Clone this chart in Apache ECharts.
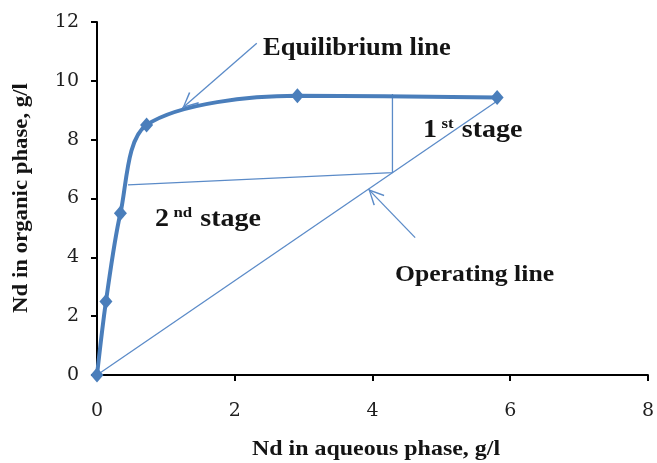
<!DOCTYPE html>
<html><head><meta charset="utf-8">
<script src="https://cdn.jsdelivr.net/npm/echarts@6/dist/echarts.min.js"></script>
<style>html,body{margin:0;padding:0;background:#fff}#c{width:657px;height:463px}</style>
</head><body><div id="c"></div>
<script>
// Equilibrium curve (points with diamond markers)
const eqX = [0, 0.13, 0.34, 0.72, 2.91, 5.81];
const eqY = [0, 2.5, 5.5, 8.5, 9.49, 9.43];
// Operating line
const opX = [0, 5.8];
const opY = [0, 9.3];
// McCabe-Thiele stage construction
const stageX = [0.45, 4.29, 4.29];
const stageY = [6.46, 6.88, 9.55];
// Annotation arrows [from, to]
const eqArrow = [[2.32, 11.28], [1.24, 9.08]];
const opArrow = [[4.62, 4.67], [3.94, 6.32]];
// Axis ticks
const xTicks = [0, 2, 4, 6, 8];
const yTicks = [0, 2, 4, 6, 8, 10, 12];
// Texts
const xTitle = 'Nd in aqueous phase, g/l';
const yTitle = 'Nd in organic phase, g/l';
const eqLabel = 'Equilibrium line';
const opLabel = 'Operating line';

const BLUE = '#4a7ebb';
const THIN = '#5b8bc8';
const SERIF = '"Liberation Serif", "Times New Roman", serif';
const TXT = '#141414';

const chev = 'path://M0,0 L-6,12 L-5,12.7 L0,2.3 L5,12.7 L6,12 Z M0,-12.7 L0.01,-12.7 L0,-12.69 Z';

function zip(a, b) { return a.map((v, i) => [v, b[i]]); }

const chart = echarts.init(document.getElementById('c'), null, {renderer: 'canvas'});
const axisCommon = {
  type: 'value',
  splitLine: {show: false},
  axisLine: {show: true, lineStyle: {color: '#000', width: 2}},
  axisTick: {show: true, inside: false, length: 6, lineStyle: {color: '#000', width: 2}},
  axisLabel: {color: '#1e1e1e', fontFamily: '"DejaVu Serif", serif', fontSize: 19}
};
function boldText(x, y, text, size, sx, extra) {
  return Object.assign({
    type: 'text', x: x, y: y, scaleX: sx, silent: true,
    style: {text: text, fill: TXT, font: 'bold ' + size + 'px ' + SERIF,
            textAlign: 'left', textVerticalAlign: 'middle'}
  }, extra || {});
}
function stageText(x, y, num, sup) {
  return {
    type: 'text', x: x, y: y, scaleX: 1.12, silent: true,
    style: {
      text: '{n|' + num + '}{s|' + sup + '}{n| stage}',
      textAlign: 'left', textVerticalAlign: 'middle',
      rich: {
        n: {fontSize: 25, fontWeight: 'bold', fontFamily: SERIF, fill: TXT, lineHeight: 26, verticalAlign: 'bottom'},
        s: {fontSize: 15, fontWeight: 'bold', fontFamily: SERIF, fill: TXT, lineHeight: 26, verticalAlign: 'top', padding: [0, 1, 0, 4]}
      }
    }
  };
}
chart.setOption({
  animation: false,
  backgroundColor: '#fff',
  grid: {left: 97, right: 5, top: 22, bottom: 88, containLabel: false},
  xAxis: Object.assign({}, axisCommon, {min: xTicks[0], max: xTicks[xTicks.length - 1], interval: xTicks[1] - xTicks[0],
    axisLabel: Object.assign({}, axisCommon.axisLabel, {margin: 27})}),
  yAxis: Object.assign({}, axisCommon, {min: yTicks[0], max: yTicks[yTicks.length - 1], interval: yTicks[1] - yTicks[0],
    axisLabel: Object.assign({}, axisCommon.axisLabel, {margin: 18})}),
  series: [
    {
      type: 'line', data: zip(opX, opY), showSymbol: false, symbol: 'none',
      lineStyle: {color: THIN, width: 1.3}, silent: true, z: 2,
      markLine: {
        silent: true, animation: false, symbol: ['none', chev], symbolSize: [15, 32],
        label: {show: false}, lineStyle: {color: THIN, width: 1.3, type: 'solid'},
        data: [
          [{coord: eqArrow[0]}, {coord: eqArrow[1]}],
          [{coord: opArrow[0]}, {coord: opArrow[1]}]
        ]
      }
    },
    {
      type: 'line', data: zip(stageX, stageY), showSymbol: false, symbol: 'none',
      lineStyle: {color: THIN, width: 1.3}, silent: true, z: 2
    },
    {
      type: 'line', data: zip(eqX, eqY), smooth: 0.3,
      symbol: 'diamond', symbolSize: [13, 15], showSymbol: true,
      itemStyle: {color: BLUE}, lineStyle: {color: BLUE, width: 4}, z: 3
    }
  ],
  graphic: [
    boldText(263, 49, eqLabel, 25, 1.06),
    boldText(395, 275, opLabel, 24, 1.07),
    stageText(155, 219, '2', 'nd'),
    stageText(423, 130, '1', 'st'),
    {type: 'text', x: 376, y: 450, scaleX: 1.14, silent: true,
     style: {text: xTitle, fill: TXT, font: 'bold 21px ' + SERIF, textAlign: 'center', textVerticalAlign: 'middle'}},
    {type: 'text', x: 22, y: 198, rotation: Math.PI / 2, scaleX: 1.085, silent: true,
     style: {text: yTitle, fill: TXT, font: 'bold 21px ' + SERIF, textAlign: 'center', textVerticalAlign: 'middle'}}
  ]
});
</script>
</body></html>
